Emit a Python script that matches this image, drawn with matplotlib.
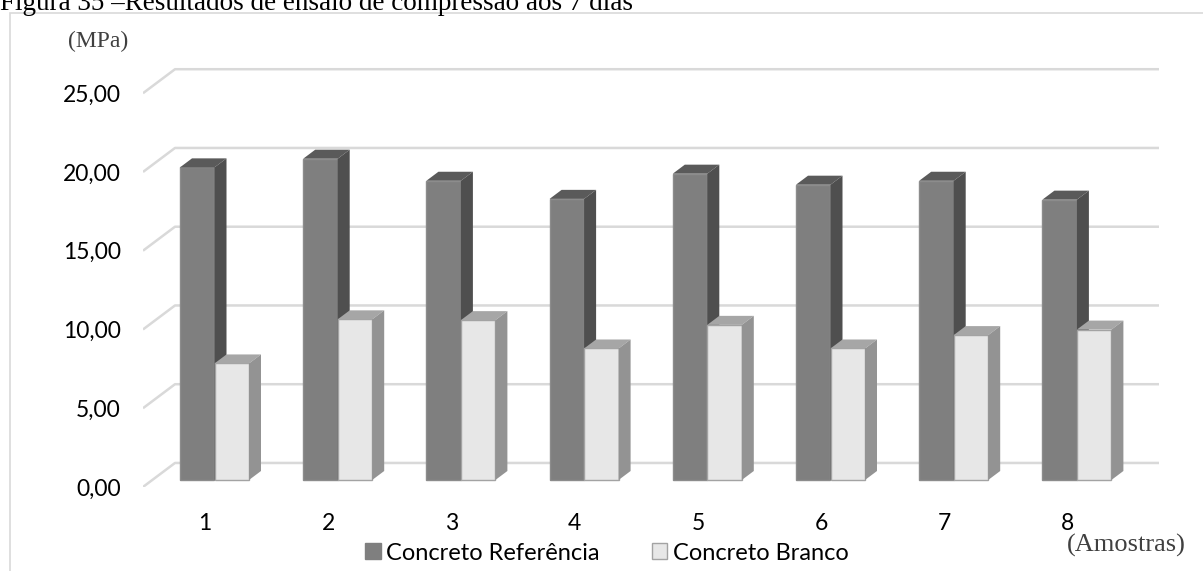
import numpy as np
import matplotlib
matplotlib.use("Agg")
import matplotlib.pyplot as plt
from matplotlib.patches import Polygon, Rectangle, Patch

# data (MPa)
amostras = [1, 2, 3, 4, 5, 6, 7, 8]
ref = [19.85, 20.4, 19.0, 17.85, 19.45, 18.75, 19.0, 17.8]
branco = [7.4, 10.2, 10.15, 8.35, 9.85, 8.35, 9.2, 9.55]
yticks = [0, 5, 10, 15, 20, 25]
ytick_labels = ["0,00", "5,00", "10,00", "15,00", "20,00", "25,00"]
series = ["Concreto Referência", "Concreto Branco"]
titulo = "Figura 35 –Resultados de ensaio de compressão aos 7 dias"

plt.rcParams['font.family'] = ['Lato', 'DejaVu Sans']

W, H = 1203, 571
fig = plt.figure(figsize=(W / 100, H / 100), dpi=100)

# layout in pixels, measured on the reference
px_x1, px_step = 214.5, 123.2   # pixel of category 1, pixels per category
px_y0, px_unit = 480, 15.75     # floor pixel, pixels per MPa
ax_l, ax_r, ax_t, ax_b = 143, 1160, 55, 487


def to_x(p):
    return 1 + (p - px_x1) / px_step


def to_y(p):
    return (px_y0 - p) / px_unit


ax = fig.add_axes([ax_l / W, 1 - ax_b / H, (ax_r - ax_l) / W, (ax_b - ax_t) / H])
ax.set_xlim(to_x(ax_l), to_x(ax_r))
ax.set_ylim(to_y(ax_b), to_y(ax_t))
for s in ax.spines.values():
    s.set_visible(False)

# fake 3d: depth vector of the walls, bars sit at 0.29..0.665 of the depth
wx, wy = 32 / px_step, 24 / px_unit
f0 = 0.29
bx, by = 0.375 * wx, 0.375 * wy
bw = 0.28

# gridlines: left wall diagonal + back wall
xl0 = to_x(ax_l)
for v in yticks:
    ax.plot([xl0, xl0 + wx, to_x(1159)],
            [v - f0 * wy, v + (1 - f0) * wy, v + (1 - f0) * wy],
            color='#d9d9d9', lw=1.8, zorder=1, solid_capstyle='butt')

ax.set_yticks(np.array(yticks) - f0 * wy, ytick_labels)
ax.set_xticks(np.array(amostras) - f0 * wx, [str(a) for a in amostras])
ax.tick_params(axis='both', length=0, labelsize=16.5, colors='black')
ax.tick_params(axis='y', pad=16)
ax.tick_params(axis='x', pad=19)


def bar3d(x0, vals, front, top, side, edge, z):
    ax.bar(x0, vals, width=bw, align='edge', color=front, edgecolor=edge,
           linewidth=1.0, zorder=z)
    for x, v in zip(x0, vals):
        ax.add_patch(Polygon([(x, v), (x + bw, v), (x + bw + bx, v + by), (x + bx, v + by)],
                             closed=True, fc=top, ec='none', zorder=z))
        ax.add_patch(Polygon([(x + bw, 0), (x + bw + bx, by), (x + bw + bx, v + by), (x + bw, v)],
                             closed=True, fc=side, ec='none', zorder=z))


xs = np.array(amostras, dtype=float)
bar3d(xs - bw, ref, '#7f7f7f', '#5a5a5a', '#4f4f4f', '#8c8c8c', 3)
bar3d(xs, branco, '#e7e7e7', '#a6a6a6', '#939393', '#a3a3a3', 4)

handles = [Patch(fc='#7f7f7f', ec='#7f7f7f'), Patch(fc='#e7e7e7', ec='#a3a3a3')]
fig.legend(handles, series, loc='center', bbox_to_anchor=(607 / W, 1 - 553 / H),
           ncol=2, frameon=False, fontsize=17, handlelength=0.65, handleheight=0.65,
           handletextpad=0.25, columnspacing=2.2, borderpad=0)

fig.text(68 / W, 1 - 41 / H, "(MPa)", family='Liberation Serif', size=17,
         color='#404040', va='center')
fig.text(1067 / W, 1 - 545 / H, "(Amostras)", family='Liberation Serif', size=19,
         color='#404040', va='center')
fig.text(0, 1 - 10 / H, titulo, family='Liberation Serif', size=19.5, va='baseline')

fig.patches.append(Rectangle((10 / W, -0.1), 1.2, 1 - 13 / H + 0.1, transform=fig.transFigure,
                             fill=False, ec='#d9d9d9', lw=1.2))

fig.savefig("out.png", dpi=100)
